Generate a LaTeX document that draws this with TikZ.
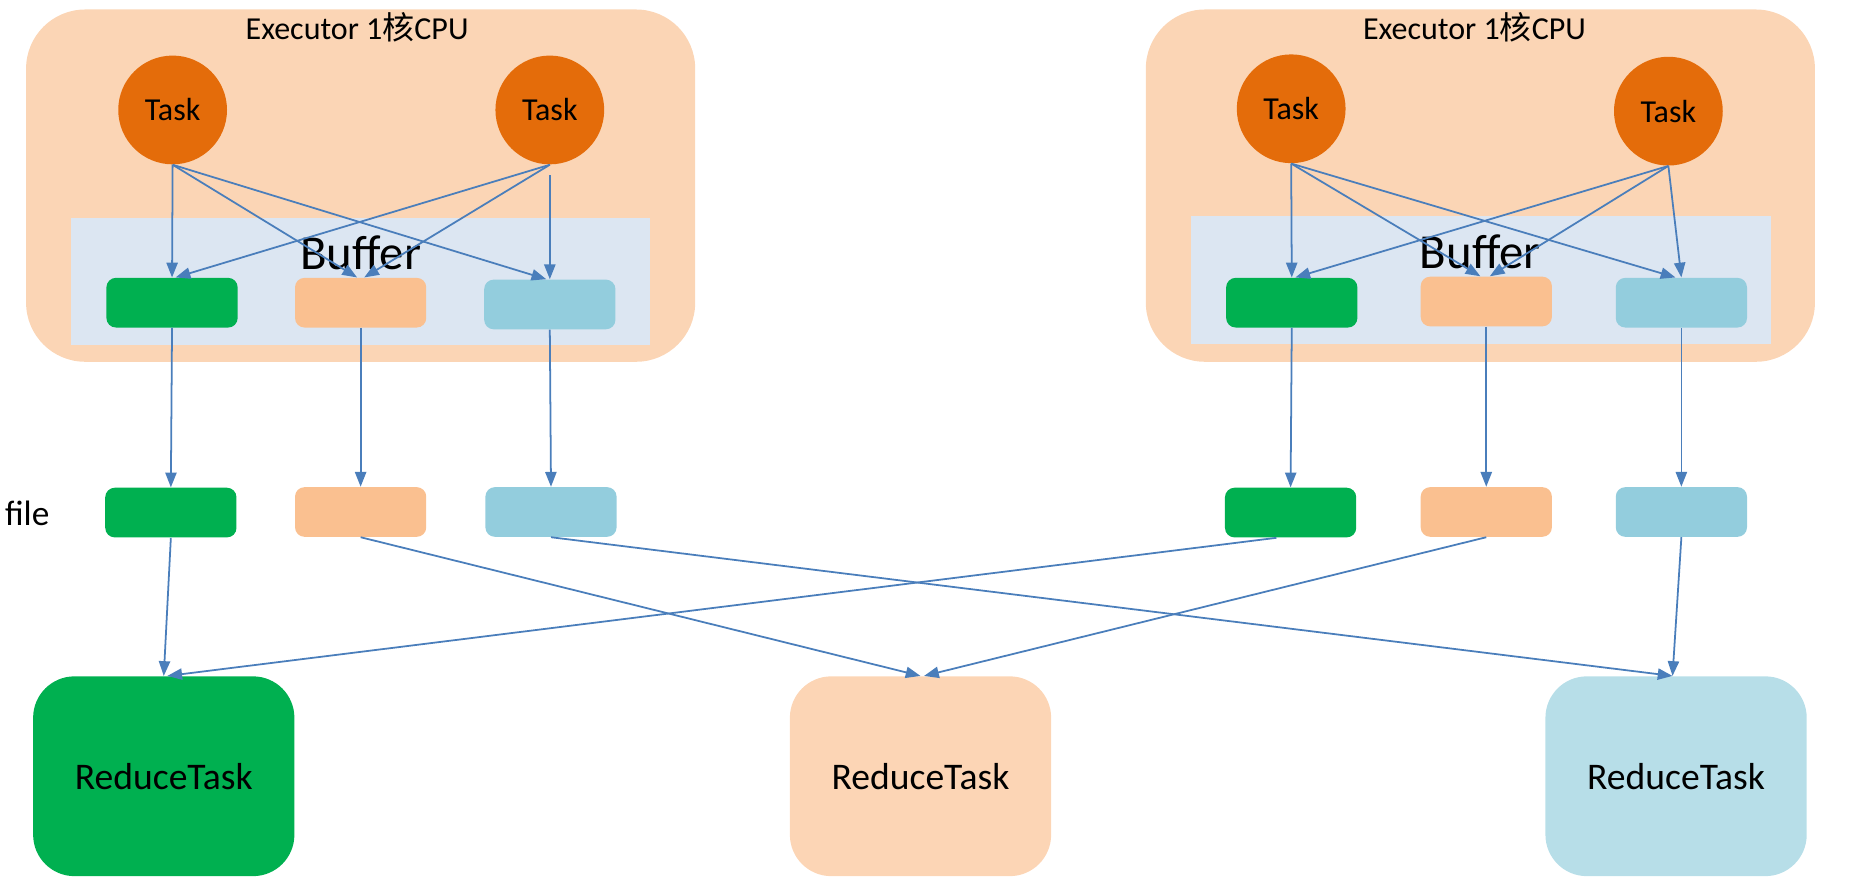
\documentclass[tikz,border=0pt]{standalone}
\usepackage{fontspec}
\setmainfont{Carlito}
\newfontfamily\cjk{Noto Sans CJK SC}
\usetikzlibrary{arrows.meta}

\definecolor{execfill}{HTML}{FBD5B5}
\definecolor{buffill}{HTML}{DCE6F2}
\definecolor{taskfill}{HTML}{E46C0A}
\definecolor{partgreen}{HTML}{00B050}
\definecolor{partpeach}{HTML}{FAC090}
\definecolor{partblue}{HTML}{93CDDD}
\definecolor{reducepeach}{HTML}{FCD5B5}
\definecolor{reduceblue}{HTML}{B7DEE8}
\definecolor{flowblue}{HTML}{4A7EBB}

\begin{document}
\begin{tikzpicture}[x=0.02cm, y=-0.02cm,
    exec/.style={fill=execfill, rounded corners=1cm, minimum width=11.32cm, minimum height=5.96cm},
    buf/.style={fill=buffill, minimum width=9.8cm, minimum height=2.16cm},
    part/.style={rounded corners=0.16cm, minimum width=2.22cm, minimum height=0.84cm, inner sep=0pt},
    task/.style={circle, fill=taskfill, minimum size=1.84cm, inner sep=0pt, font=\fontsize{15.4}{17}\selectfont},
    reduce/.style={rounded corners=0.7cm, minimum width=4.42cm, minimum height=3.38cm, font=\fontsize{18.1}{20}\selectfont},
    flow/.style={draw=flowblue, line width=0.85pt, -{Triangle[length=0.25cm, width=0.19cm]}}
]
    \useasboundingbox (0,0) rectangle (1568,745.7);

    % Draw the two executors with their buffers
    \node[exec] (ex1) at (305,157) {};
    \node[exec] (ex2) at (1252,157) {};
    \node[font=\fontsize{15.4}{17}\selectfont] (ex1t) at (302,23) {Executor 1{\cjk 核}CPU};
    \node[font=\fontsize{15.4}{17}\selectfont] (ex2t) at (1247,23) {Executor 1{\cjk 核}CPU};
    \node[buf] (buf1) at (305,238) {};
    \node[buf] (buf2) at (1252.5,237) {};
    \node[font=\fontsize{23.5}{26}\selectfont] (buf1t) at (305,214) {Buffer};
    \node[font=\fontsize{23.5}{26}\selectfont] (buf2t) at (1252,213) {Buffer};

    % Tasks
    \node[task] (t1) at (146,93) {Task};
    \node[task] (t2) at (465,93) {Task};
    \node[task] (t3) at (1092,92) {Task};
    \node[task] (t4) at (1411,94) {Task};

    % Parts in the buffers
    \node[part, fill=partgreen] (bg1) at (145.5,256) {};
    \node[part, fill=partpeach] (bp1) at (305,256) {};
    \node[part, fill=partblue] (bb1) at (465,257.5) {};
    \node[part, fill=partgreen] (bg2) at (1092.5,256) {};
    \node[part, fill=partpeach] (bp2) at (1257,255) {};
    \node[part, fill=partblue] (bb2) at (1422,256) {};

    % Files
    \node[font=\fontsize{17}{20}\selectfont] (file) at (23,434) {file};
    \node[part, fill=partgreen] (fg1) at (144.5,433.5) {};
    \node[part, fill=partpeach] (fp1) at (305,433) {};
    \node[part, fill=partblue] (fb1) at (466,433) {};
    \node[part, fill=partgreen] (fg2) at (1091.5,433.5) {};
    \node[part, fill=partpeach] (fp2) at (1257,433) {};
    \node[part, fill=partblue] (fb2) at (1422,433) {};

    % Reduce tasks
    \node[reduce, fill=partgreen] (r1) at (138.5,656.5) {ReduceTask};
    \node[reduce, fill=reducepeach] (r2) at (778.5,656.5) {ReduceTask};
    \node[reduce, fill=reduceblue] (r3) at (1417.5,656.5) {ReduceTask};

    % Arrows from tasks into the buffers
    \draw[flow] (t1.south) -- (bg1.north);
    \draw[flow] (t1.south) -- ([xshift=-0.06cm]bp1.north);
    \draw[flow] (t1.south) -- ([xshift=-0.06cm]bb1.north);
    \draw[flow] (t2.south) -- ([xshift=0.06cm]bg1.north);
    \draw[flow] (t2.south) -- ([xshift=0.06cm]bp1.north);
    \draw[flow] ([yshift=-0.18cm]t2.south) -- (bb1.north);
    \draw[flow] (t3.south) -- (bg2.north);
    \draw[flow] (t3.south) -- ([xshift=-0.1cm]bp2.north);
    \draw[flow] (t3.south) -- ([xshift=-0.1cm]bb2.north);
    \draw[flow] (t4.south) -- ([xshift=0.06cm]bg2.north);
    \draw[flow] (t4.south) -- ([xshift=0.06cm]bp2.north);
    \draw[flow] (t4.south) -- (bb2.north);

    % Arrows from the buffers to the files
    \draw[flow] (bg1.south) -- (fg1.north);
    \draw[flow] (bp1.south) -- (fp1.north);
    \draw[flow] (bb1.south) -- (fb1.north);
    \draw[flow] (bg2.south) -- (fg2.north);
    \draw[flow] (bp2.south) -- (fp2.north);
    \draw[flow] (bb2.south) -- (fb2.north);

    % Arrows from the files to the reduce tasks
    \draw[flow] (fg1.south) -- (r1.north);
    \draw[flow] ([xshift=-0.24cm]fg2.south) -- ([xshift=0.06cm]r1.north);
    \draw[flow] (fp1.south) -- (r2.north);
    \draw[flow] (fp2.south) -- ([xshift=0.06cm]r2.north);
    \draw[flow] (fb1.south) -- ([xshift=-0.06cm]r3.north);
    \draw[flow] (fb2.south) -- ([xshift=-0.06cm]r3.north);
\end{tikzpicture}
\end{document}
